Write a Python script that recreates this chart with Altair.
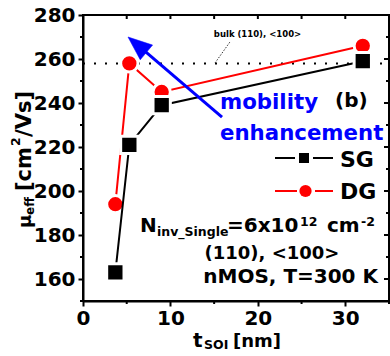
import altair as alt
import pandas as pd

# ---------------- data ----------------
t_soi_sg = [3.7, 5.3, 9.0, 32.0]
mu_sg = [163, 221, 239, 259]
t_soi_dg = [3.7, 5.3, 9.0, 32.0]
mu_dg = [194, 258, 245, 266]
bulk_mu = [258]
x_ticks = [0, 10, 20, 30]
x_minor = [5, 15, 25, 35]
x_top = [0, 5, 10, 15, 20, 25, 30, 35]
y_ticks = [160, 180, 200, 220, 240, 260, 280]
y_minor = [150, 170, 190, 210, 230, 250, 270]
arrow_t = [15.9, 6.2]
arrow_mu = [233.6, 266.5]
leader_t = [16.8, 15.1]
leader_mu = [267.7, 258.2]

# ---------------- layout ----------------
W, H = 306, 286
L, T = 83, 15
FONT = "DejaVu Sans"
BLUE = "#0000FF"
RED = "#FF0000"

xs = alt.Scale(domain=[0, 35], nice=False, zero=False)
ys = alt.Scale(domain=[150, 280], nice=False, zero=False)

ax_common = dict(labelFont=FONT, labelFontSize=20, labelFontWeight="bold", labelColor="black",
                 tickColor="black", tickWidth=2, tickSize=5, domainColor="black", domainWidth=2,
                 grid=False, title=None, labelFlush=False, labelOverlap=False)
X = alt.X("t:Q", scale=xs, axis=alt.Axis(values=x_ticks, labelPadding=2, **ax_common))
Y = alt.Y("mu:Q", scale=ys, axis=alt.Axis(values=y_ticks, labelPadding=3, **ax_common))

sg = pd.DataFrame({"t": t_soi_sg, "mu": mu_sg})
dg = pd.DataFrame({"t": t_soi_dg, "mu": mu_dg})
one = pd.DataFrame({"k": [0]})

layers = []

# bulk dotted line
layers.append(alt.Chart(pd.DataFrame({"mu": bulk_mu})).mark_rule(
    color="black", strokeWidth=2, strokeDash=[2, 9]).encode(
    y=Y, x=alt.value(0), x2=alt.value(W)))

# leader for bulk label
layers.append(alt.Chart(pd.DataFrame({"t": leader_t, "mu": leader_mu})).mark_line(
    color="#333333", strokeWidth=1, strokeDash=[1.5, 1.5]).encode(x=X, y=Y))

# DG series
layers.append(alt.Chart(dg).mark_line(color=RED, strokeWidth=2).encode(x=X, y=Y))
layers.append(alt.Chart(dg).mark_point(shape="circle", filled=True, fill=RED, stroke="white",
                                       strokeWidth=3, size=300, opacity=1).encode(x=X, y=Y))
# SG series
layers.append(alt.Chart(sg).mark_line(color="black", strokeWidth=2).encode(x=X, y=Y))
layers.append(alt.Chart(sg).mark_point(shape="square", filled=True, fill="black", stroke="white",
                                       strokeWidth=3, size=300, opacity=1).encode(x=X, y=Y))

# arrow
layers.append(alt.Chart(pd.DataFrame({"t": arrow_t, "mu": arrow_mu})).mark_line(
    color=BLUE, strokeWidth=3).encode(x=X, y=Y))
layers.append(alt.Chart(pd.DataFrame({"t": [arrow_t[1]], "mu": [arrow_mu[1]]})).mark_point(
    shape="M0,-1L0.8,1L-0.8,1Z", filled=True, fill=BLUE, stroke=BLUE, strokeWidth=0.5,
    size=576, angle=310, opacity=1).encode(x=X, y=Y))

# ticks: minor outward, frame ticks inward
def ticks_x(vals, y0, y1):
    return alt.Chart(pd.DataFrame({"t": vals})).mark_rule(color="black", strokeWidth=2).encode(
        x=X, y=alt.value(y0), y2=alt.value(y1))

def ticks_y(vals, x0, x1):
    return alt.Chart(pd.DataFrame({"mu": vals})).mark_rule(color="black", strokeWidth=2).encode(
        y=Y, x=alt.value(x0), x2=alt.value(x1))

layers.append(ticks_x(x_minor, H, H + 3))
layers.append(ticks_y(y_minor, 0, -3))
layers.append(ticks_x(x_top, 0, 4))
layers.append(ticks_y(y_ticks, W, W - 5))
layers.append(ticks_y(y_minor, W, W - 3))


def txt(s, x, y, size, color="black", align="left", angle=None, baseline="alphabetic"):
    kw = dict(text=s, font=FONT, fontSize=size, fontWeight="bold", color=color,
              align=align, baseline=baseline)
    if angle is not None:
        kw["angle"] = angle
    return alt.Chart(one).mark_text(**kw).encode(x=alt.value(x - L), y=alt.value(y - T))


def seg(x0, x1, y, color):
    return alt.Chart(one).mark_rule(color=color, strokeWidth=2).encode(
        x=alt.value(x0 - L), x2=alt.value(x1 - L), y=alt.value(y - T))


# annotations
layers.append(txt("bulk (110), <100>", 257.5, 34, 8.5, align="center", baseline="middle"))
layers.append(txt("mobility", 220, 109, 21.3, color=BLUE))
layers.append(txt("enhancement", 220, 140, 21.3, color=BLUE))
layers.append(txt("(b)", 335, 107, 20))

# legend
layers.append(seg(275, 295, 158, "black"))
layers.append(seg(313, 333, 158, "black"))
layers.append(alt.Chart(one).mark_point(shape="square", filled=True, fill="black", size=100,
                                        opacity=1).encode(x=alt.value(304 - L), y=alt.value(158 - T)))
layers.append(txt("SG", 340, 167, 22))
layers.append(seg(275, 297, 191, RED))
layers.append(seg(315, 333, 191, RED))
layers.append(alt.Chart(one).mark_point(shape="circle", filled=True, fill=RED, size=150,
                                        opacity=1).encode(x=alt.value(305.5 - L), y=alt.value(191 - T)))
layers.append(txt("DG", 340, 199, 22))

# condition text
layers.append(txt("N", 140, 232, 20))
layers.append(txt("inv_Single", 157, 236, 12.5))
layers.append(txt("=6x10", 227, 232, 20))
layers.append(txt("12", 300, 226, 12.5))
layers.append(txt("cm", 327, 232, 20))
layers.append(txt("-2", 361, 226, 12.5))
layers.append(txt("(110), <100>", 272, 259, 18, align="center"))
layers.append(txt("nMOS, T=300 K", 378, 283, 20, align="right"))

# x axis title
layers.append(txt("t", 193, 347, 20))
layers.append(txt("SOI", 204, 349, 12.5))
layers.append(txt("[nm]", 233, 347, 18))

# y axis title (rotated)
layers.append(txt("μ", 31, 228, 18, angle=270))
layers.append(txt("eff", 34, 215, 12, angle=270))
layers.append(txt("[cm", 31, 191, 21, angle=270))
layers.append(txt("2", 20, 146, 12.5, angle=270))
layers.append(txt("/Vs]", 31, 137, 21, angle=270))

chart = alt.layer(*layers).properties(
    width=W, height=H,
    autosize=alt.AutoSizeParams(type="none"),
    padding={"left": L, "top": T, "right": 390 - L - W, "bottom": 356 - T - H},
).configure_view(stroke="black", strokeWidth=2)

chart.save("out.html", embed_options={"renderer": "svg", "actions": False})
